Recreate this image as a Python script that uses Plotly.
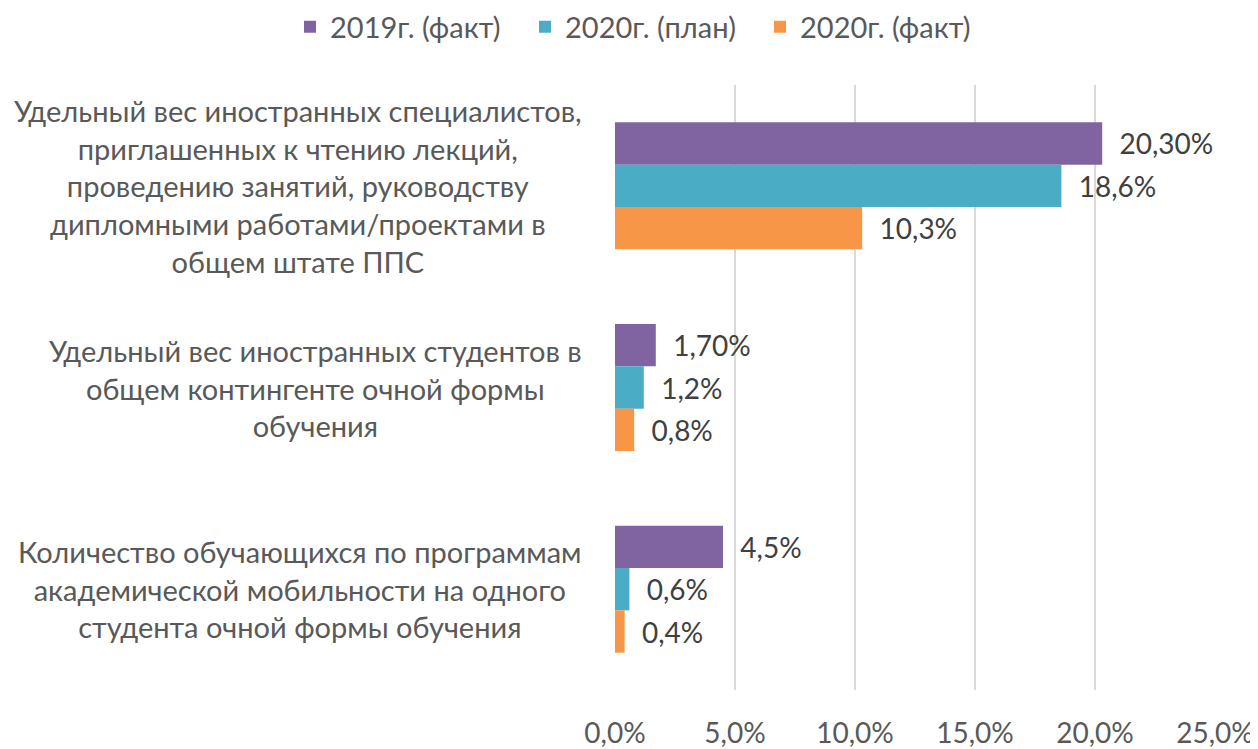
import plotly.graph_objects as go

categories = [
    "Удельный вес иностранных специалистов,<br>приглашенных к чтению лекций,<br>проведению занятий, руководству<br>дипломными работами/проектами в<br>общем штате ППС",
    "Удельный вес иностранных студентов в<br>общем контингенте очной формы<br>обучения",
    "Количество обучающихся по программам<br>академической мобильности на одного<br>студента очной формы обучения",
]
cat_keys = ["c1", "c2", "c3"]

series_names = ["2019г. (факт)", "2020г. (план)", "2020г. (факт)"]
values_2019 = [0.203, 0.017, 0.045]
values_2020_plan = [0.186, 0.012, 0.006]
values_2020_fact = [0.103, 0.008, 0.004]
labels_2019 = ["20,30%", "1,70%", "4,5%"]
labels_2020_plan = ["18,6%", "1,2%", "0,6%"]
labels_2020_fact = ["10,3%", "0,8%", "0,4%"]

tick_vals = [0, 0.05, 0.10, 0.15, 0.20, 0.25]

colors = ["#8064A2", "#4BACC6", "#F79646"]
FONT = "Lato"

W, H = 1250, 741
ML, MR, MT, MB = 607, 43, 77, 59
PW = W - ML - MR
PH = H - MT - MB

fig = go.Figure()
for name, vals, labs, col in zip(
    series_names,
    [values_2019, values_2020_plan, values_2020_fact],
    [labels_2019, labels_2020_plan, labels_2020_fact],
    colors,
):
    fig.add_trace(go.Bar(
        name=name, y=cat_keys, x=vals, orientation="h",
        marker=dict(color=col, line=dict(width=0)),
        text=labs, texttemplate="\u00a0\u00a0%{text}", textposition="outside",
        textfont=dict(family=FONT, size=28, color="#404040"),
        cliponaxis=False,
    ))

for key, txt in zip(cat_keys, categories):
    fig.add_annotation(
        x=0, xref="paper", y=key, yref="y", xanchor="right", yanchor="middle",
        xshift=-31, text=txt, align="center", showarrow=False,
        font=dict(family=FONT, size=29, color="#595959"),
    )

fig.update_layout(
    width=W, height=H,
    margin=dict(l=ML, r=MR, t=MT, b=MB, autoexpand=False),
    paper_bgcolor="white", plot_bgcolor="white",
    barmode="group", bargap=0.37, bargroupgap=0,
    separators=", ",
    font=dict(family=FONT, size=29, color="#595959"),
    legend=dict(
        orientation="h", xref="paper", x=(290 - 8 - ML) / PW, xanchor="left",
        yref="paper", y=1 + (MT - 19) / PH, yanchor="middle", traceorder="normal",
        font=dict(family=FONT, size=29, color="#595959"),
        entrywidth=190, bgcolor="rgba(0,0,0,0)",
    ),
    xaxis=dict(
        range=[0, 0.25], tickvals=tick_vals, tickformat=".1%",
        showgrid=True, gridcolor="#D9D9D9", gridwidth=1.5,
        zeroline=False, showline=False, ticks="",
        ticklabelstandoff=24, automargin=False,
        tickfont=dict(family=FONT, size=28, color="#595959"),
    ),
    yaxis=dict(
        autorange="reversed", showticklabels=False, showgrid=False,
        zeroline=False, showline=False, ticks="", automargin=False,
    ),
    showlegend=True,
)

fig.write_html("out.html")
